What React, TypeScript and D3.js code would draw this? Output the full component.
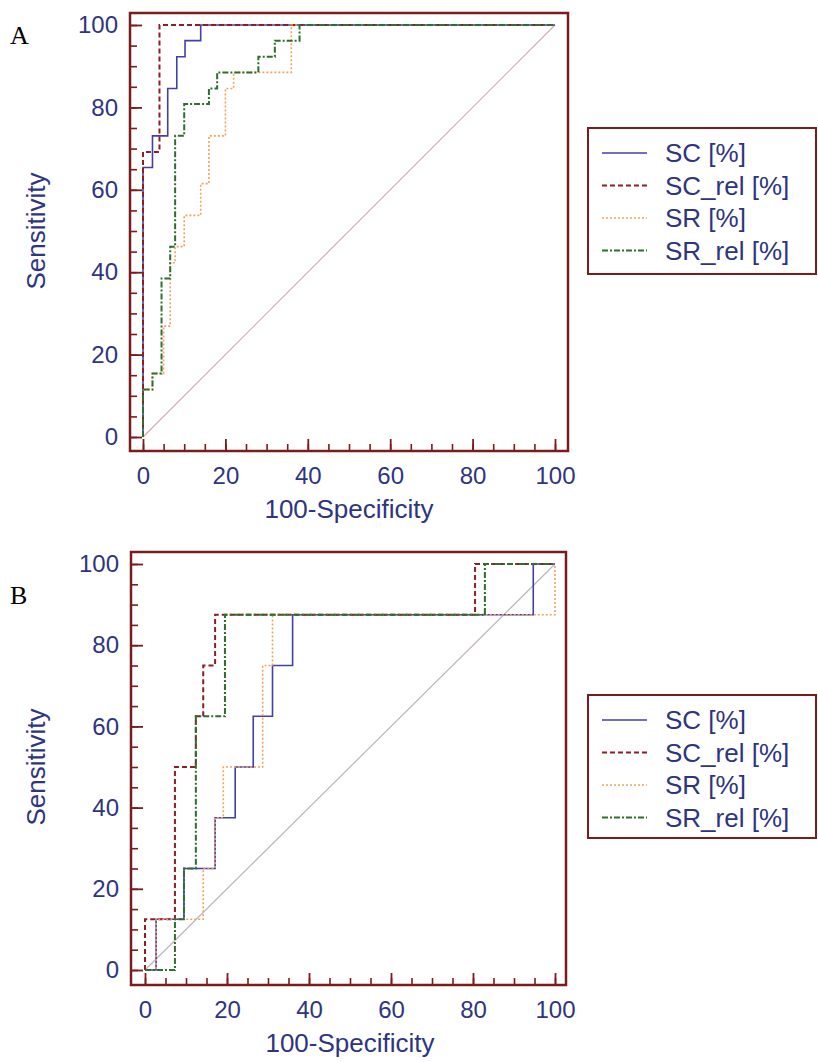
import * as d3 from "d3";
import { useEffect, useRef } from "react";

// ROC operating points (100-Specificity, Sensitivity), drawn as steps
const seriesNames = ["SC [%]", "SC_rel [%]", "SR [%]", "SR_rel [%]"];

const aScX = [0, 0, 2.3, 6, 8.2, 10.2, 14, 100];
const aScY = [0, 65.4, 73.1, 84.6, 92.3, 96.2, 100, 100];
const aScRelX = [0, 0, 4, 100];
const aScRelY = [0, 69.2, 100, 100];
const aSrX = [0, 0, 2.3, 5, 6.6, 7.8, 10, 14, 16, 20, 22, 36, 100];
const aSrY = [0, 11.5, 15.4, 26.9, 42.3, 46.2, 53.8, 61.5, 73.1, 84.6, 88.5, 100, 100];
const aSrRelX = [0, 0, 2.3, 4.5, 6.6, 7.8, 10, 16, 18, 28, 32, 38, 100];
const aSrRelY = [0, 11.5, 15.4, 38.5, 46.2, 73.1, 80.8, 84.6, 88.5, 92.3, 96.2, 100, 100];

const bScX = [0, 2.7, 9.5, 17.1, 22, 26.4, 31.1, 36, 94.7, 100];
const bScY = [0, 12.5, 25, 37.5, 50, 62.5, 75, 87.5, 100, 100];
const bScRelX = [0, 0, 7.3, 12.4, 14.2, 17.1, 80.5, 100];
const bScRelY = [0, 12.5, 50, 62.5, 75, 87.5, 100, 100];
const bSrX = [0, 2.7, 14.2, 17.1, 19.1, 28.7, 31.1, 100];
const bSrY = [0, 12.5, 25, 37.5, 50, 75, 87.5, 100];
const bSrRelX = [0, 7.3, 9.5, 12.4, 19.5, 82.9, 100];
const bSrRelY = [0, 12.5, 25, 62.5, 87.5, 100, 100];

const majorTicks = [0, 20, 40, 60, 80, 100];
const minorTicks = d3.range(0, 101, 5);

const FONT = "'Liberation Sans', Arial, sans-serif";
const TEXT = "#2e3580";
const FRAME = "#7a1c1c";

const styles = [
  { color: "#4040a8", dash: null, width: 1.6 },
  { color: "#8a1f26", dash: "5 3", width: 2 },
  { color: "#f2a35a", dash: "2 2", width: 1.6 },
  { color: "#2f6e2f", dash: "6 2 2 2", width: 2 },
];

type Panel = {
  letter: string;
  letterY: number;
  frame: { left: number; top: number; right: number; bottom: number };
  xr: [number, number];
  yr: [number, number];
  series: [number[], number[]][];
  diag: string;
  legendTop: number;
  legendH: number;
};

const panels: Panel[] = [
  {
    letter: "A",
    letterY: 44,
    frame: { left: 130, top: 13, right: 568, bottom: 451 },
    xr: [143, 555],
    yr: [437, 25],
    series: [[aScX, aScY], [aScRelX, aScRelY], [aSrX, aSrY], [aSrRelX, aSrRelY]],
    diag: "#d7aab2",
    legendTop: 128,
    legendH: 146,
  },
  {
    letter: "B",
    letterY: 604,
    frame: { left: 131, top: 552, right: 566, bottom: 985 },
    xr: [145, 555],
    yr: [970, 564],
    series: [[bScX, bScY], [bScRelX, bScRelY], [bSrX, bSrY], [bSrRelX, bSrRelY]],
    diag: "#bdb4bc",
    legendTop: 695,
    legendH: 143,
  },
];

export default function App() {
  const svgRef = useRef<SVGSVGElement | null>(null);
  useEffect(() => {
    if (!svgRef.current) return;
    const svg = d3.select(svgRef.current);
    svg.selectAll("*").remove();
    panels.forEach(p => drawPanel(svg, p));
  }, []);
  return (
    <div style={{ position: "absolute", left: 0, top: 0 }}>
      <svg ref={svgRef} width={818} height={1062} style={{ display: "block", background: "#fff" }} />
    </div>
  );
}

function drawPanel(svg: d3.Selection<SVGSVGElement, unknown, null, undefined>, p: Panel) {
  const g = svg.append("g");
  const f = p.frame;
  const x = d3.scaleLinear().domain([0, 100]).range(p.xr);
  const y = d3.scaleLinear().domain([0, 100]).range(p.yr);

  // panel letter
  g.append("text")
    .attr("x", 10)
    .attr("y", p.letterY)
    .attr("font-family", "'Liberation Serif', 'Times New Roman', serif")
    .attr("font-size", 26)
    .attr("fill", "#000")
    .text(p.letter);

  // diagonal reference
  g.append("line")
    .attr("x1", x(0)).attr("y1", y(0))
    .attr("x2", x(100)).attr("y2", y(100))
    .attr("stroke", p.diag)
    .attr("stroke-width", 1.2);

  // curves
  p.series.forEach(([xs, ys], k) => {
    const st = styles[k];
    const gen = d3.line<number>()
      .x(i => x(xs[i]))
      .y(i => y(ys[i]))
      .curve(d3.curveStepAfter);
    g.append("path")
      .attr("d", gen(d3.range(xs.length)))
      .attr("fill", "none")
      .attr("stroke", st.color)
      .attr("stroke-width", st.width)
      .attr("stroke-dasharray", st.dash);
  });

  // minor ticks
  const yMinor = g.append("g").attr("transform", `translate(${f.left},0)`)
    .call(d3.axisLeft(y).tickValues(minorTicks).tickSize(-7).tickFormat(() => ""));
  const xMinor = g.append("g").attr("transform", `translate(0,${f.bottom})`)
    .call(d3.axisBottom(x).tickValues(minorTicks).tickSize(-7).tickFormat(() => ""));
  [yMinor, xMinor].forEach(a => {
    a.select(".domain").remove();
    a.selectAll("line").attr("stroke", FRAME).attr("stroke-width", 1.6);
  });

  // major ticks + labels
  const yAxis = g.append("g").attr("transform", `translate(${f.left},0)`)
    .call(d3.axisLeft(y).tickValues(majorTicks).tickSize(-12).tickPadding(12));
  const xAxis = g.append("g").attr("transform", `translate(0,${f.bottom})`)
    .call(d3.axisBottom(x).tickValues(majorTicks).tickSize(-12).tickPadding(16));
  [yAxis, xAxis].forEach(a => {
    a.select(".domain").remove();
    a.selectAll("line").attr("stroke", FRAME).attr("stroke-width", 1.8);
    a.selectAll("text")
      .attr("font-family", FONT)
      .attr("font-size", 24)
      .attr("fill", TEXT);
  });

  // frame
  g.append("rect")
    .attr("x", f.left).attr("y", f.top)
    .attr("width", f.right - f.left).attr("height", f.bottom - f.top)
    .attr("fill", "none")
    .attr("stroke", FRAME)
    .attr("stroke-width", 2.5);

  // axis titles
  g.append("text")
    .attr("transform", `translate(36,${(y(0) + y(100)) / 2}) rotate(-90)`)
    .attr("text-anchor", "middle")
    .attr("dy", "0.35em")
    .attr("font-family", FONT)
    .attr("font-size", 26)
    .attr("fill", TEXT)
    .text("Sensitivity");
  g.append("text")
    .attr("x", (x(0) + x(100)) / 2)
    .attr("y", f.bottom + 67)
    .attr("text-anchor", "middle")
    .attr("font-family", FONT)
    .attr("font-size", 26)
    .attr("fill", TEXT)
    .text("100-Specificity");

  // legend
  const lg = g.append("g").attr("transform", `translate(588,${p.legendTop})`);
  lg.append("rect")
    .attr("width", 228).attr("height", p.legendH)
    .attr("fill", "#fff")
    .attr("stroke", FRAME)
    .attr("stroke-width", 2);
  seriesNames.forEach((name, k) => {
    const st = styles[k];
    const cy = 25 + k * 32.5;
    lg.append("line")
      .attr("x1", 14).attr("x2", 59)
      .attr("y1", cy).attr("y2", cy)
      .attr("stroke", st.color)
      .attr("stroke-width", st.width)
      .attr("stroke-dasharray", st.dash);
    lg.append("text")
      .attr("x", 77).attr("y", cy)
      .attr("dy", "0.35em")
      .attr("font-family", FONT)
      .attr("font-size", 26)
      .attr("fill", TEXT)
      .text(name);
  });
}
